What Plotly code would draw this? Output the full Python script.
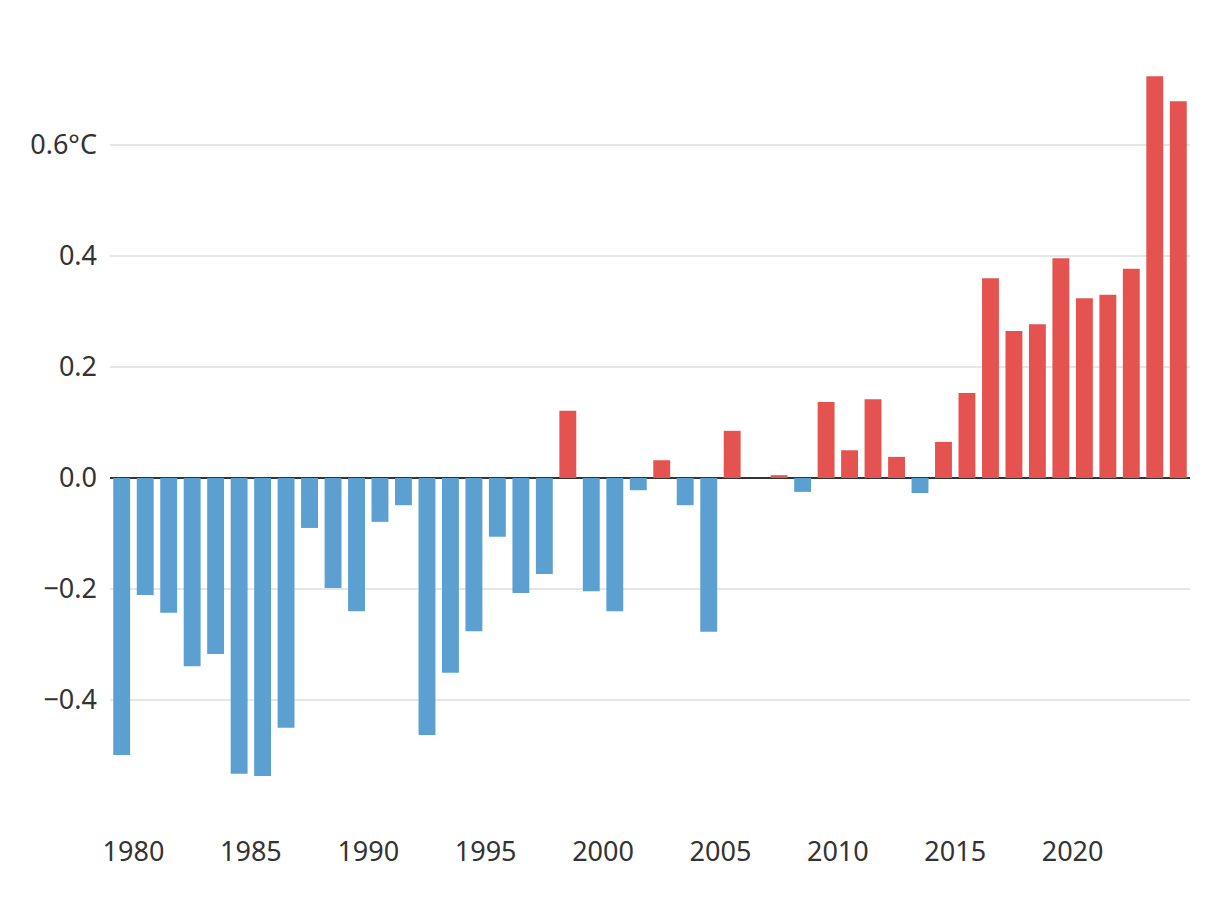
import plotly.graph_objects as go

years = list(range(1979, 2025))
anomalies = [
    -0.499, -0.211, -0.243, -0.339, -0.317, -0.533, -0.537, -0.450, -0.090, -0.198,
    -0.240, -0.079, -0.049, -0.463, -0.351, -0.276, -0.106, -0.207, -0.173, 0.121,
    -0.204, -0.240, -0.022, 0.032, -0.049, -0.277, 0.085, 0.000, 0.005, -0.025,
    0.137, 0.050, 0.142, 0.038, -0.027, 0.065, 0.153, 0.360, 0.265, 0.277,
    0.396, 0.324, 0.330, 0.377, 0.724, 0.679,
]
ytick_vals = [-0.4, -0.2, 0.0, 0.2, 0.4, 0.6]
ytick_text = ["\u22120.4", "\u22120.2", "0.0", "0.2", "0.4", "0.6°C"]
xtick_years = [1980, 1985, 1990, 1995, 2000, 2005, 2010, 2015, 2020]

BLUE = "#5ba0d0"
RED = "#e45350"

x_dates = [f"{y}-07-02" for y in years]
colors = [RED if v > 0 else BLUE for v in anomalies]

fig = go.Figure(
    go.Bar(
        x=x_dates,
        y=anomalies,
        marker=dict(color=colors, line=dict(width=0)),
        hoverinfo="x+y",
    )
)

font_family = "Noto Sans"
fig.update_layout(
    width=1220,
    height=908,
    margin=dict(l=102, r=38, t=26, b=105, autoexpand=False),
    paper_bgcolor="white",
    plot_bgcolor="white",
    bargap=0.28,
    showlegend=False,
    font=dict(family=font_family, size=27, color="#333333"),
)
fig.update_xaxes(
    type="date",
    range=["1979-01-01", "2024-12-31"],
    tickvals=[f"{y}-01-01" for y in xtick_years],
    ticktext=[str(y) for y in xtick_years],
    showgrid=False,
    zeroline=False,
    showline=False,
    ticks="",
    automargin=False,
    ticklabelstandoff=22,
    tickfont=dict(size=27, color="#333333"),
)
fig.update_yaxes(
    range=[-0.6, 0.8],
    tickvals=ytick_vals,
    ticktext=ytick_text,
    showgrid=True,
    gridcolor="#e6e6e6",
    gridwidth=2,
    zeroline=True,
    zerolinecolor="#333333",
    zerolinewidth=2,
    showline=False,
    ticks="",
    automargin=False,
    ticklabelstandoff=12,
    tickfont=dict(size=27, color="#333333"),
)

fig.write_html("out.html")
